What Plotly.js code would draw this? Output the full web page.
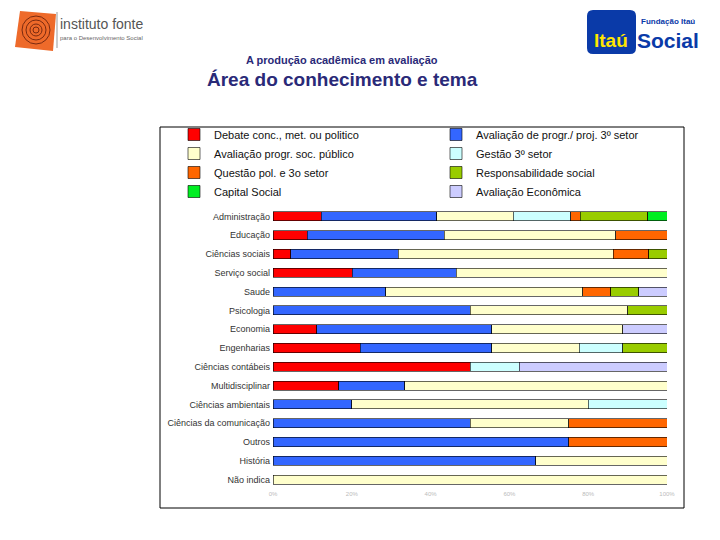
<!DOCTYPE html>
<html>
<head>
<meta charset="utf-8">
<script src="https://cdn.plot.ly/plotly-3.0.1.min.js"></script>
<style>html,body{margin:0;padding:0;background:#fff;}#chart{width:720px;height:540px;}</style>
</head>
<body>
<div id="chart"></div>
<script>
const categories = ['Administração','Educação','Ciências sociais','Serviço social','Saude','Psicologia','Economia','Engenharias','Ciências contábeis','Multidisciplinar','Ciências ambientais','Ciências da comunicação','Outros','História','Não indica'];

const seriesNames = ['Debate conc., met. ou politico','Avaliação de progr./ proj. 3º setor','Avaliação progr. soc. público','Gestão 3º setor','Questão pol. e 3o setor','Responsabilidade social','Capital Social','Avaliação Econômica'];

const debate    = [12.2, 8.7, 4.5, 20.1, null, null, 11.1, 22.2, 50.0, 16.7, null, null, null, null, null];
const avalProj  = [29.3, 34.8, 27.3, 26.4, 28.6, 50.0, 44.4, 33.3, null, 16.7, 20.0, 50.0, 75.0, 66.7, null];
const avalPub   = [19.5, 43.5, 54.5, 53.5, 50.0, 40.0, 33.3, 22.2, null, 66.6, 60.0, 25.0, null, 33.3, 100.0];
const gestao    = [14.6, null, null, null, null, null, null, 11.1, 12.5, null, 20.0, null, null, null, null];
const questao   = [2.4, 13.0, 9.1, null, 7.1, null, null, null, null, null, null, 25.0, 25.0, null, null];
const respSoc   = [17.1, null, 4.6, null, 7.1, 10.0, null, 11.2, null, null, null, null, null, null, null];
const capital   = [4.9, null, null, null, null, null, null, null, null, null, null, null, null, null, null];
const avalEcon  = [null, null, null, null, 7.2, null, 11.2, null, 37.5, null, null, null, null, null, null];

const tickVals = [0, 20, 40, 60, 80, 100];
const tickText = ['0%', '20%', '40%', '60%', '80%', '100%'];

const seriesValues = [debate, avalProj, avalPub, gestao, questao, respSoc, capital, avalEcon];
const colors = ['#FF0000', '#3366FF', '#FFFFCC', '#CCFFFF', '#FF6600', '#99CC00', '#00EE22', '#CCCCFF'];
const legendOf = ['legend', 'legend2', 'legend', 'legend2', 'legend', 'legend2', 'legend', 'legend2'];

const traces = seriesValues.map((vals, i) => ({
  type: 'bar',
  orientation: 'h',
  name: seriesNames[i],
  y: categories,
  x: vals,
  marker: {color: colors[i], line: {color: '#000', width: 0.6}},
  legend: legendOf[i],
  hoverinfo: 'none'
}));

// plot area in pixels
const PL = 273, PR = 667, PT = 207, PB = 489;
const px = x => (x - PL) / (PR - PL);
const py = y => 1 - (y - PT) / (PB - PT);

const font = 'Liberation Sans, Arial, sans-serif';
const navy = '#2A2A78';

const shapes = [
  // chart frame
  {type: 'rect', xref: 'paper', yref: 'paper', x0: px(160), x1: px(684), y0: py(508), y1: py(127), line: {color: '#000', width: 1}},
  // instituto fonte logo
  {type: 'path', xref: 'paper', yref: 'paper', path: `M ${px(20)} ${py(11)} L ${px(56)} ${py(14)} L ${px(53)} ${py(51)} L ${px(15)} ${py(47)} Z`, fillcolor: '#EE6A2A', line: {width: 0}},
  {type: 'line', xref: 'paper', yref: 'paper', x0: px(57), x1: px(57), y0: py(12), y1: py(48), line: {color: '#999', width: 1}}
];
[14, 10, 6, 3].forEach(r => {
  shapes.push({type: 'circle', xref: 'paper', yref: 'paper', x0: px(36 - r), x1: px(36 + r), y0: py(30 + r), y1: py(30 - r), line: {color: '#7A2A10', width: 1}});
});
// Itau logo box
shapes.push({type: 'path', xref: 'paper', yref: 'paper',
  path: `M ${px(593)} ${py(10)} L ${px(630)} ${py(10)} Q ${px(636)} ${py(10)} ${px(636)} ${py(16)} L ${px(636)} ${py(48)} Q ${px(636)} ${py(54)} ${px(630)} ${py(54)} L ${px(593)} ${py(54)} Q ${px(587)} ${py(54)} ${px(587)} ${py(48)} L ${px(587)} ${py(16)} Q ${px(587)} ${py(10)} ${px(593)} ${py(10)} Z`,
  fillcolor: '#0A3AA8', line: {width: 0}});

const annotations = [
  {text: 'A produção acadêmica em avaliação', xref: 'paper', yref: 'paper', x: px(342), y: py(60), xanchor: 'center', yanchor: 'middle', showarrow: false, font: {family: font, size: 11, color: navy, weight: 'bold'}},
  {text: 'Área do conhecimento e tema', xref: 'paper', yref: 'paper', x: px(342), y: py(79), xanchor: 'center', yanchor: 'middle', showarrow: false, font: {family: font, size: 19, color: navy, weight: 'bold'}},
  {text: 'instituto fonte', xref: 'paper', yref: 'paper', x: px(58), y: py(24), xanchor: 'left', yanchor: 'middle', showarrow: false, font: {family: font, size: 14, color: '#555'}},
  {text: 'para o Desenvolvimento Social', xref: 'paper', yref: 'paper', x: px(58), y: py(38), xanchor: 'left', yanchor: 'middle', showarrow: false, font: {family: font, size: 6, color: '#666'}},
  {text: 'Itaú', xref: 'paper', yref: 'paper', x: px(611), y: py(41), xanchor: 'center', yanchor: 'middle', showarrow: false, font: {family: font, size: 19, color: '#FFE600', weight: 'bold'}},
  {text: 'Fundação Itaú', xref: 'paper', yref: 'paper', x: px(668), y: py(21), xanchor: 'center', yanchor: 'middle', showarrow: false, font: {family: font, size: 8, color: '#0A3AA8', weight: 'bold'}},
  {text: 'Social', xref: 'paper', yref: 'paper', x: px(668), y: py(40), xanchor: 'center', yanchor: 'middle', showarrow: false, font: {family: font, size: 21, color: '#0A3AA8', weight: 'bold'}}
];

const legendCommon = {
  orientation: 'v', yanchor: 'top', xanchor: 'left', traceorder: 'normal',
  bgcolor: 'rgba(0,0,0,0)', borderwidth: 0,
  font: {family: font, size: 11, color: '#111'},
  itemclick: false, itemdoubleclick: false
};

const layout = {
  width: 720, height: 540,
  margin: {l: PL, r: 720 - PR, t: PT, b: 540 - PB, pad: 0},
  paper_bgcolor: '#fff', plot_bgcolor: '#fff',
  barmode: 'stack',
  bargap: 0.52,
  showlegend: true,
  legend: Object.assign({}, legendCommon, {x: px(174), y: py(120)}),
  legend2: Object.assign({}, legendCommon, {x: px(436), y: py(120)}),
  xaxis: {
    range: [0, 100], tickvals: tickVals, ticktext: tickText,
    showgrid: false, zeroline: false, showline: false, ticks: '',
    tickfont: {family: font, size: 6, color: '#BBB'}, fixedrange: true
  },
  yaxis: {
    type: 'category', autorange: 'reversed',
    showgrid: false, zeroline: false, showline: false, ticks: '',
    ticklabelstandoff: 2,
    tickfont: {family: font, size: 9, color: '#333'}, fixedrange: true
  },
  shapes: shapes,
  annotations: annotations,
  font: {family: font}
};

Plotly.newPlot('chart', traces, layout, {displayModeBar: false, staticPlot: true});
</script>
</body>
</html>
